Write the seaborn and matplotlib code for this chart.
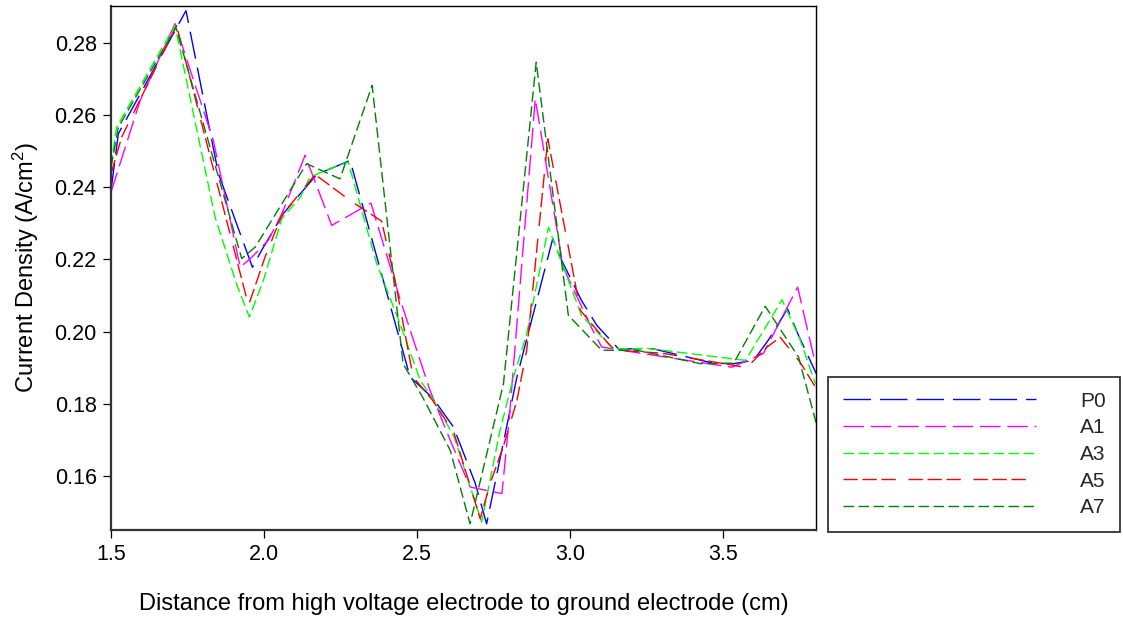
import numpy as np
import pandas as pd
import matplotlib
matplotlib.use("Agg")
import matplotlib.pyplot as plt
import seaborn as sns

# ---------------- data ----------------
series_names = ["P0", "A1", "A3", "A5", "A7"]

x_p0 = [1.500, 1.524, 1.745, 1.851, 1.938, 1.962, 1.992, 2.063, 2.172, 2.281, 2.477, 2.552, 2.619,
        2.690, 2.727, 2.826, 2.943, 2.967, 3.037, 3.087, 3.158, 3.272, 3.468, 3.534, 3.599, 3.648,
        3.710, 3.746, 3.804]
y_p0 = [0.2391, 0.2548, 0.2889, 0.2437, 0.2234, 0.2178, 0.2225, 0.2327, 0.2435, 0.2474, 0.1874, 0.1815,
        0.1735, 0.1579, 0.1467, 0.1874, 0.2257, 0.2206, 0.2086, 0.2017, 0.1952, 0.1952, 0.1912, 0.1911,
        0.1920, 0.1977, 0.2063, 0.1989, 0.1883]

x_a1 = [1.500, 1.595, 1.709, 1.834, 1.922, 1.960, 2.013, 2.058, 2.134, 2.221, 2.349, 2.444, 2.542,
        2.608, 2.673, 2.777, 2.800, 2.886, 2.977, 3.071, 3.103, 3.229, 3.528, 3.631, 3.743, 3.801]
y_a1 = [0.2386, 0.2640, 0.2853, 0.2530, 0.2178, 0.2206, 0.2252, 0.2326, 0.2488, 0.2294, 0.2356, 0.2090,
        0.1837, 0.1699, 0.1569, 0.1551, 0.1750, 0.2645, 0.2178, 0.2008, 0.1957, 0.1940, 0.1901, 0.1939,
        0.2123, 0.1911]

x_a3 = [1.500, 1.518, 1.709, 1.840, 1.910, 1.952, 1.998, 2.058, 2.118, 2.150, 2.226, 2.275, 2.319,
        2.368, 2.444, 2.510, 2.550, 2.620, 2.711, 2.771, 2.815, 2.858, 2.929, 3.037, 3.140, 3.255,
        3.573, 3.692, 3.750, 3.801]
y_a3 = [0.2460, 0.2566, 0.2848, 0.2317, 0.2132, 0.2040, 0.2142, 0.2313, 0.2372, 0.2428, 0.2455, 0.2469,
        0.2336, 0.2188, 0.2022, 0.1865, 0.1815, 0.1710, 0.1472, 0.1727, 0.1874, 0.1994, 0.2289, 0.2045,
        0.1952, 0.1953, 0.1920, 0.2088, 0.1980, 0.1855]

x_a5 = [1.500, 1.535, 1.714, 1.949, 2.003, 2.058, 2.167, 2.281, 2.384, 2.428, 2.487, 2.550, 2.620,
        2.706, 2.739, 2.781, 2.826, 2.858, 2.927, 3.033, 3.120, 3.147, 3.300, 3.577, 3.643, 3.686,
        3.751, 3.804]
y_a5 = [0.2437, 0.2539, 0.2848, 0.2072, 0.2206, 0.2322, 0.2435, 0.2363, 0.2306, 0.2142, 0.1874, 0.1810,
        0.1720, 0.1481, 0.1580, 0.1680, 0.1809, 0.1948, 0.2534, 0.2059, 0.1971, 0.1948, 0.1940, 0.1900,
        0.1957, 0.1984, 0.1915, 0.1842]

x_a7 = [1.500, 1.524, 1.712, 1.927, 1.971, 2.139, 2.248, 2.353, 2.454, 2.520, 2.608, 2.673, 2.782,
        2.889, 2.994, 3.103, 3.218, 3.425, 3.534, 3.637, 3.746, 3.804]
y_a7 = [0.2455, 0.2566, 0.2843, 0.2202, 0.2234, 0.2465, 0.2423, 0.2682, 0.1911, 0.1815, 0.1671, 0.1467,
        0.1855, 0.2746, 0.2045, 0.1948, 0.1948, 0.1911, 0.1912, 0.2070, 0.1929, 0.1745]

x_ticks = [1.5, 2.0, 2.5, 3.0, 3.5]
y_ticks = [0.16, 0.18, 0.20, 0.22, 0.24, 0.26, 0.28]
x_label = "Distance from high voltage electrode to ground electrode (cm)"
y_label = "Current Density (A/cm$^2$)"

# ---------------- styling ----------------
colors = {"P0": "#0000FF", "A1": "#FF00FF", "A3": "#00FF00", "A5": "#FF0000", "A7": "#008000"}
px = 0.72  # points per pixel at dpi 100
dashes = {
    "P0": (27.5 * px, 9.0 * px),
    "A1": (20.5 * px, 6.8 * px),
    "A3": (10.5 * px, 4.5 * px),
    "A5": (14.3 * px, 4.7 * px, 14.3 * px, 4.7 * px, 14.3 * px, 12.7 * px),
    "A7": (10.5 * px, 4.5 * px),
}

sns.set_theme(style="white")
plt.rcParams["font.family"] = ["Liberation Sans", "DejaVu Sans"]
plt.rcParams["lines.scale_dashes"] = False
plt.rcParams["mathtext.fontset"] = "custom"
plt.rcParams["mathtext.rm"] = "Liberation Sans"
plt.rcParams["mathtext.it"] = "Liberation Sans"

frames = []
for name, xs, ys in [("P0", x_p0, y_p0), ("A1", x_a1, y_a1), ("A3", x_a3, y_a3),
                     ("A5", x_a5, y_a5), ("A7", x_a7, y_a7)]:
    frames.append(pd.DataFrame({"x": xs, "y": ys, "series": name}))
df = pd.concat(frames, ignore_index=True)

fig = plt.figure(figsize=(11.23, 6.18), dpi=100)
ax = fig.add_axes([111 / 1123, 1 - 530 / 618, (816 - 111) / 1123, (530 - 6) / 618])

sns.lineplot(data=df, x="x", y="y", hue="series", style="series",
             hue_order=series_names, style_order=series_names,
             palette=colors, dashes=dashes, estimator=None, sort=False,
             linewidth=1.0, legend=False, ax=ax)

ax.set_xlim(1.5, 3.803)
ax.set_ylim(0.145, 0.2902)
ax.set_xticks(x_ticks)
ax.set_xticklabels([f"{v:.1f}" for v in x_ticks])
ax.set_yticks(y_ticks)
ax.set_yticklabels([f"{v:.2f}" for v in y_ticks])
ax.tick_params(axis="both", which="major", direction="out", length=5.8, width=0.9,
               color="black", labelsize=15.5, labelcolor="black", pad=4.5, left=True, bottom=True)

for side in ["top", "right"]:
    ax.spines[side].set_color("black")
    ax.spines[side].set_linewidth(1.0)
for side in ["left", "bottom"]:
    ax.spines[side].set_color("#333333")
    ax.spines[side].set_linewidth(1.6)

ax.set_xlabel(x_label, fontsize=17, color="black", labelpad=20)
ax.set_ylabel(y_label, fontsize=17, color="black", labelpad=10)

handles = ax.get_lines()[:len(series_names)]
leg = fig.legend(handles, series_names, loc="upper left",
                 bbox_to_anchor=(828 / 1123, 1 - 377 / 618),
                 frameon=True, fancybox=False, shadow=False, fontsize=15,
                 handlelength=9.3, handletextpad=2.1, borderpad=0.7,
                 labelspacing=0.37, borderaxespad=0)
leg.get_frame().set_edgecolor("black")
leg.get_frame().set_linewidth(1.3)

fig.savefig("out.png", dpi=100)
